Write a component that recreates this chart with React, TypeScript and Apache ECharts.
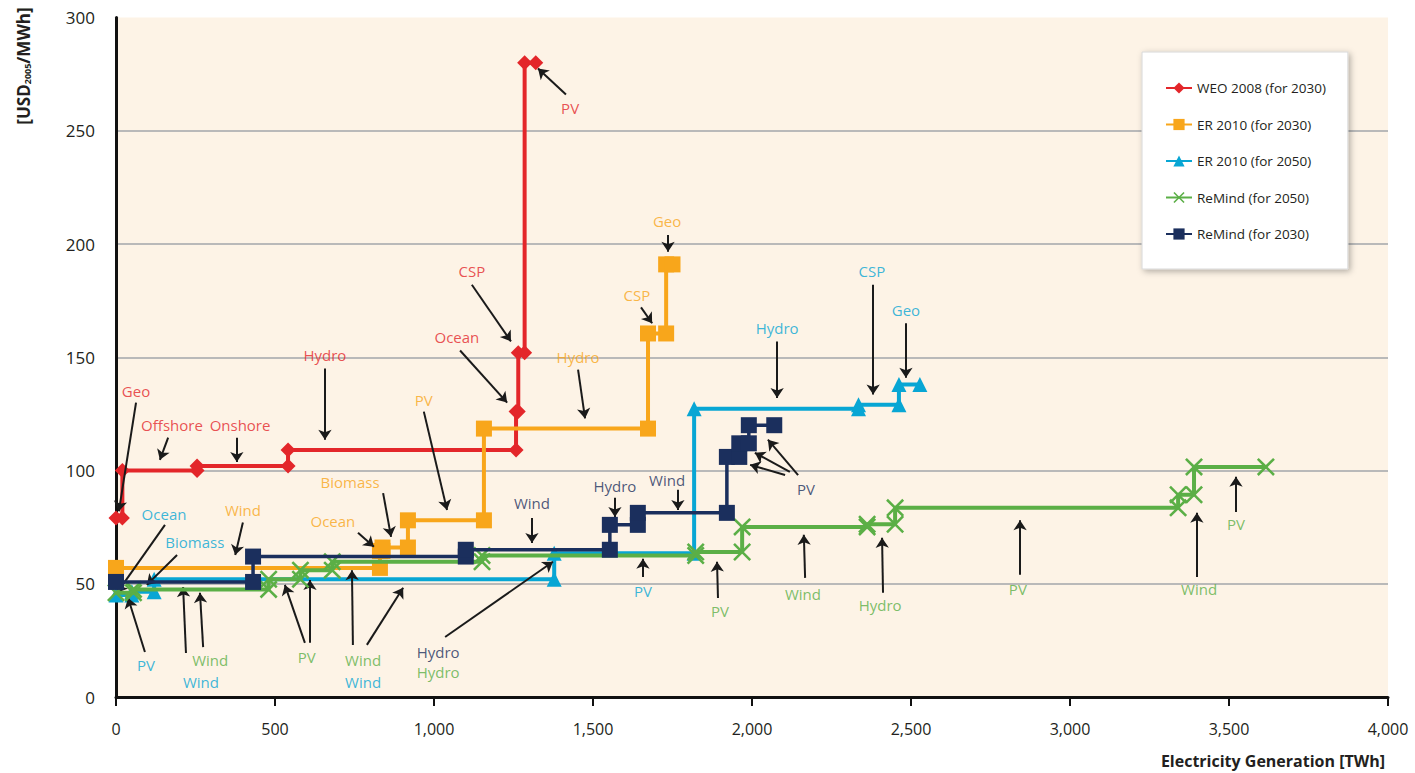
import React, { useEffect, useRef } from "react";
import * as echarts from "echarts";

// ---------- data (generation boundaries in TWh, cost in USD2005/MWh) ----------
const seriesNames = [
  "WEO 2008 (for 2030)",
  "ER 2010 (for 2030)",
  "ER 2010 (for 2050)",
  "ReMind (for 2050)",
  "ReMind (for 2030)",
];

const weoBounds = [0, 20, 255, 541, 1258, 1265, 1285, 1320];
const weoCost = [79, 100, 102, 109, 126, 152, 280];

const er30Bounds = [0, 830, 838, 918, 1157, 1673, 1730, 1750];
const er30Cost = [57, 64.5, 66, 78, 118.5, 160.5, 191];

const er50Bounds = [0, 50, 120, 1378, 1818, 2335, 2462, 2528];
const er50Cost = [45, 46.5, 52, 63.5, 127.3, 129, 138];

const rm50Bounds = [0, 55, 480, 580, 680, 1151, 1823, 1969, 2362, 2450, 3340, 3390, 3616];
const rm50Cost = [46, 47.5, 52, 56, 59.7, 62.5, 64, 75.1, 76.3, 83.5, 89.3, 101.6];

const rm30Bounds = [0, 431, 1100, 1553, 1641, 1921, 1960, 1990, 2070];
const rm30Cost = [50.8, 62, 65, 76, 81.3, 106, 112, 120];

const xMax = 4000;
const xStep = 500;
const yMax = 300;
const yStep = 50;

// annotation labels: text, position (data units), and which series colour
const labelTexts = [
  "Geo", "Offshore", "Onshore", "Hydro", "Ocean", "CSP", "PV",
  "Wind", "Biomass", "Ocean", "PV", "Hydro", "CSP", "Geo",
  "Ocean", "Biomass", "PV", "Wind", "Wind", "PV", "Hydro", "CSP", "Geo",
  "Wind", "PV", "Wind", "Hydro", "PV", "Wind", "Hydro", "PV", "Wind", "PV",
  "Hydro", "Wind", "Hydro", "Wind", "PV",
];
const labelX = [
  63, 176, 390, 657, 1072, 1119, 1428,
  399, 736, 682, 968, 1453, 1638, 1733,
  151, 248, 94, 267, 777, 1657, 2079, 2377, 2484,
  296, 600, 777, 1013, 1899, 2160, 2403, 2836, 3406, 3522,
  1013, 1308, 1569, 1733, 2170,
];
const labelY = [
  135, 120, 120, 151, 159, 188, 260,
  82.6, 95, 77.8, 131, 150, 177.6, 210,
  81, 68.5, 14, 6.8, 6.8, 47, 163, 188, 171,
  16.3, 17.7, 16.3, 11, 38, 45.5, 40.7, 47.7, 47.7, 76.4,
  20, 85.7, 93, 96, 92,
];
const labelSeries = [
  0, 0, 0, 0, 0, 0, 0,
  1, 1, 1, 1, 1, 1, 1,
  2, 2, 2, 2, 2, 2, 2, 2, 2,
  3, 3, 3, 3, 3, 3, 3, 3, 3, 3,
  4, 4, 4, 4, 4,
];

// arrows: [fromX, fromY, toX, toY] in data units
const arrows = [
  [63, 130, 9, 82],
  [164, 114.5, 138, 104.7],
  [380, 114.5, 380, 103.8],
  [657, 145, 657, 113.6],
  [1082, 153, 1230, 130],
  [1119, 182, 1242, 157],
  [1415, 266, 1327, 277.5],
  [399, 77, 375, 62.7],
  [840, 90, 865, 70.7],
  [761, 72.5, 811, 66.3],
  [968, 126, 1041, 82.6],
  [1453, 144.5, 1475, 123],
  [1651, 172, 1686, 165],
  [1736, 204, 1736, 196.6],
  [154, 76, 3, 46],
  [192, 62.7, 97, 49.5],
  [91, 19.9, 38, 43.7],
  [220, 19.4, 211, 48.6],
  [274, 22, 264, 46],
  [745, 23, 742, 56],
  [789, 23, 903, 48.2],
  [1035, 26.5, 1374, 59.7],
  [1657, 53, 1657, 61],
  [2079, 157, 2079, 132],
  [2381, 182, 2381, 133.5],
  [2484, 165, 2484, 141],
  [594, 23.9, 531, 49.5],
  [610, 23.9, 610, 51.7],
  [1893, 43.7, 1890, 59.7],
  [2167, 52.6, 2163, 71.6],
  [2412, 46, 2409, 70.3],
  [2843, 54, 2843, 78],
  [3399, 53, 3399, 81.3],
  [3522, 81.7, 3522, 97.2],
  [1308, 79, 1308, 68],
  [1569, 88, 1569, 79.5],
  [1767, 91.5, 1767, 82.6],
  [2104, 98, 1994, 102.5],
  [2119, 99.4, 2009, 107.8],
  [2145, 98, 2050, 113.6],
];

// ---------- styles ----------
const colors = ["#e3262a", "#f8a61b", "#08a6d4", "#5baf46", "#1b2f5d"];
const crossPath =
  "path://M0,2 L2,0 L10,8 L18,0 L20,2 L12,10 L20,18 L18,20 L10,12 L2,20 L0,18 L8,10 Z";
const symbols = ["diamond", "rect", "triangle", crossPath, "rect"];
const symbolSizes = [15, 16, 15, 18, 16];
const lineWidths = [4, 4, 4, 4, 3.5];
const FONT = "'Open Sans', 'Noto Sans', sans-serif";

function steps(bounds: number[], cost: number[]) {
  const out: number[][] = [];
  cost.forEach((c, i) => {
    out.push([bounds[i], c]);
    out.push([bounds[i + 1], c]);
  });
  return out;
}

const allBounds = [weoBounds, er30Bounds, er50Bounds, rm50Bounds, rm30Bounds];
const allCosts = [weoCost, er30Cost, er50Cost, rm50Cost, rm30Cost];

export default function App() {
  const ref = useRef<HTMLDivElement>(null);

  useEffect(() => {
    if (!ref.current) return;
    const chart = echarts.init(ref.current, null, { renderer: "svg" });

    const lineSeries = seriesNames.map((name, i) => ({
      name,
      type: "line",
      data: steps(allBounds[i], allCosts[i]),
      symbol: symbols[i],
      symbolSize: symbolSizes[i],
      showSymbol: true,
      showAllSymbol: true,
      lineStyle: { color: colors[i], width: lineWidths[i] },
      itemStyle: { color: colors[i], borderWidth: 0 },
      emphasis: { disabled: true },
      z: 2 + i,
    }));

    const labelSeriesObj = {
      name: "annotations",
      type: "scatter",
      symbolSize: 1,
      itemStyle: { color: "rgba(0,0,0,0)" },
      silent: true,
      z: 20,
      data: labelTexts.map((t, i) => ({
        value: [labelX[i], labelY[i]],
        label: {
          show: true,
          position: "inside",
          formatter: t,
          color: colors[labelSeries[i]],
          fontSize: 15,
          fontFamily: FONT,
        },
      })),
      markLine: {
        silent: true,
        symbol: ["none", "arrow"],
        symbolSize: 10,
        precision: 4,
        lineStyle: { color: "#1a1a1a", width: 2, type: "solid" },
        label: { show: false },
        emphasis: { disabled: true },
        data: arrows.map((a) => [
          { coord: [a[0], a[1]] },
          { coord: [a[2], a[3]] },
        ]),
      },
    };

    chart.setOption({
      animation: false,
      backgroundColor: "#ffffff",
      textStyle: { fontFamily: FONT },
      grid: {
        left: 116,
        right: 27,
        top: 17.5,
        bottom: 76,
        show: true,
        backgroundColor: "#fdf3e6",
        borderWidth: 0,
      },
      legend: {
        data: seriesNames,
        orient: "vertical",
        left: 1142,
        top: 52,
        itemWidth: 26,
        itemHeight: 14,
        itemGap: 22.5,
        padding: [29, 22, 28, 23],
        backgroundColor: "#ffffff",
        borderColor: "#d8d8d8",
        borderWidth: 1,
        shadowBlur: 6,
        shadowColor: "rgba(0,0,0,0.3)",
        shadowOffsetX: 2,
        shadowOffsetY: 2,
        textStyle: { fontSize: 13.5, color: "#231f20", fontFamily: FONT },
        selectedMode: false,
      },
      xAxis: {
        type: "value",
        min: 0,
        max: xMax,
        interval: xStep,
        axisLine: { show: true, lineStyle: { color: "#111", width: 3 } },
        axisTick: { show: true, length: 9, lineStyle: { color: "#111", width: 2 } },
        splitLine: { show: false },
        axisLabel: {
          fontSize: 16,
          color: "#231f20",
          margin: 24,
          fontFamily: FONT,
          formatter: (v: number) => v.toLocaleString("en-US"),
        },
      },
      yAxis: {
        type: "value",
        min: 0,
        max: yMax,
        interval: yStep,
        axisLine: { show: true, lineStyle: { color: "#111", width: 3 } },
        axisTick: { show: false },
        splitLine: {
          show: true,
          showMinLine: false,
          showMaxLine: false,
          lineStyle: { color: "#b9b9b9", width: 2 },
        },
        axisLabel: { fontSize: 17, color: "#231f20", margin: 21, fontFamily: FONT },
      },
      graphic: [
        {
          type: "text",
          x: 23,
          y: 66,
          rotation: Math.PI / 2,
          style: {
            text: "{a|[USD}{s|2005}{a|/MWh]}",
            align: "center",
            verticalAlign: "middle",
            fill: "#231f20",
            rich: {
              a: { fontSize: 17, fontWeight: "bold", fontFamily: FONT, fill: "#231f20" },
              s: {
                fontSize: 9,
                fontWeight: "bold",
                fontFamily: FONT,
                fill: "#231f20",
                verticalAlign: "bottom",
              },
            },
          },
        },
        {
          type: "text",
          x: 1385,
          y: 761,
          style: {
            text: "Electricity Generation [TWh]",
            align: "right",
            verticalAlign: "middle",
            fontSize: 16,
            fontWeight: "bold",
            fontFamily: FONT,
            fill: "#231f20",
          },
        },
      ],
      series: [...lineSeries, labelSeriesObj],
    });

    return () => chart.dispose();
  }, []);

  return (
    <div
      ref={ref}
      style={{ position: "absolute", left: 0, top: 0, width: 1415, height: 773 }}
    />
  );
}
